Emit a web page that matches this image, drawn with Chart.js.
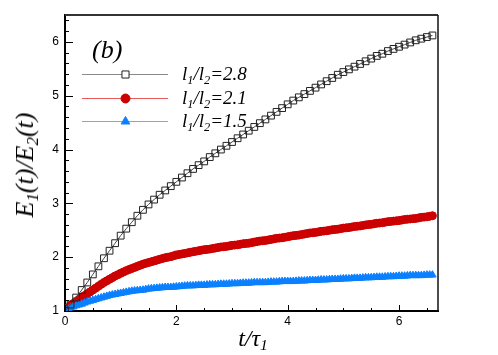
<!DOCTYPE html>
<html>
<head>
<meta charset="utf-8">
<script src="https://cdn.jsdelivr.net/npm/chart.js@4.4.1/dist/chart.umd.min.js"></script>
<style>
  html, body { margin: 0; padding: 0; background: #fff; }
  #wrap { position: relative; width: 498px; height: 355px; }
  canvas { position: absolute; left: 0; top: 0; }
  .lbl { position: absolute; font-family: "Liberation Serif", "Times New Roman", serif; font-style: italic; color: #000; white-space: nowrap; }
  .lbl sub { font-size: 0.65em; vertical-align: -0.3em; line-height: 0; }
  #ytitle { left: 25px; top: 165px; font-size: 26px; transform: translate(-50%, -50%) rotate(-90deg); }
  #xtitle { left: 253px; top: 338px; font-size: 24px; transform: translate(-50%, -50%); }
  #tag { left: 92px; top: 35px; font-size: 26px; }
  .leg { left: 182px; height: 22px; line-height: 22px; font-size: 19px; }
</style>
</head>
<body>
<div id="wrap">
  <canvas id="chart" width="498" height="355"></canvas>
  <div class="lbl" id="ytitle">E<sub>1</sub>(t)/E<sub>2</sub>(t)</div>
  <div class="lbl" id="xtitle">t/τ<sub>1</sub></div>
  <div class="lbl" id="tag">(b)</div>
  <div class="lbl leg" style="top:63px">l<sub>1</sub>/l<sub>2</sub>=2.8</div>
  <div class="lbl leg" style="top:87px">l<sub>1</sub>/l<sub>2</sub>=2.1</div>
  <div class="lbl leg" style="top:110px">l<sub>1</sub>/l<sub>2</sub>=1.5</div>
</div>
<script>
// temps adimensionnel t/tau1 (serie l1/l2 = 2.8)
const tValues = [
  0.0, 0.1, 0.2, 0.3, 0.4, 0.5, 0.6, 0.7, 0.8, 0.9,
  1.0, 1.1, 1.2, 1.3, 1.4, 1.5, 1.6, 1.7, 1.8, 1.9,
  2.0, 2.1, 2.2, 2.3, 2.4, 2.5, 2.6, 2.7, 2.8, 2.9,
  3.0, 3.1, 3.2, 3.3, 3.4, 3.5, 3.6, 3.7, 3.8, 3.9,
  4.0, 4.1, 4.2, 4.3, 4.4, 4.5, 4.6, 4.7, 4.8, 4.9,
  5.0, 5.1, 5.2, 5.3, 5.4, 5.5, 5.6, 5.7, 5.8, 5.9,
  6.0, 6.1, 6.2, 6.3, 6.4, 6.5, 6.6
];

// pas plus fin pour les series 2.1 et 1.5 (marqueurs tres serres)
const tFine = [
  0.00, 0.05, 0.10, 0.15, 0.20, 0.25, 0.30, 0.35, 0.40, 0.45,
  0.50, 0.55, 0.60, 0.65, 0.70, 0.75, 0.80, 0.85, 0.90, 0.95,
  1.00, 1.05, 1.10, 1.15, 1.20, 1.25, 1.30, 1.35, 1.40, 1.45,
  1.50, 1.55, 1.60, 1.65, 1.70, 1.75, 1.80, 1.85, 1.90, 1.95,
  2.00, 2.05, 2.10, 2.15, 2.20, 2.25, 2.30, 2.35, 2.40, 2.45,
  2.50, 2.55, 2.60, 2.65, 2.70, 2.75, 2.80, 2.85, 2.90, 2.95,
  3.00, 3.05, 3.10, 3.15, 3.20, 3.25, 3.30, 3.35, 3.40, 3.45,
  3.50, 3.55, 3.60, 3.65, 3.70, 3.75, 3.80, 3.85, 3.90, 3.95,
  4.00, 4.05, 4.10, 4.15, 4.20, 4.25, 4.30, 4.35, 4.40, 4.45,
  4.50, 4.55, 4.60, 4.65, 4.70, 4.75, 4.80, 4.85, 4.90, 4.95,
  5.00, 5.05, 5.10, 5.15, 5.20, 5.25, 5.30, 5.35, 5.40, 5.45,
  5.50, 5.55, 5.60, 5.65, 5.70, 5.75, 5.80, 5.85, 5.90, 5.95,
  6.00, 6.05, 6.10, 6.15, 6.20, 6.25, 6.30, 6.35, 6.40, 6.45,
  6.50, 6.55, 6.60
];

// l1/l2 = 2.8
const ratio28 = [
  1.00, 1.12, 1.25, 1.39, 1.53, 1.68, 1.83, 1.98, 2.12, 2.26,
  2.40, 2.53, 2.65, 2.77, 2.88, 2.98, 3.07, 3.16, 3.24, 3.32,
  3.40, 3.48, 3.56, 3.64, 3.71, 3.78, 3.86, 3.93, 4.00, 4.07,
  4.14, 4.21, 4.28, 4.35, 4.42, 4.49, 4.56, 4.63, 4.70, 4.77,
  4.84, 4.91, 4.97, 5.03, 5.09, 5.15, 5.21, 5.27, 5.33, 5.39,
  5.44, 5.49, 5.54, 5.59, 5.64, 5.69, 5.74, 5.78, 5.83, 5.87,
  5.91, 5.95, 5.99, 6.03, 6.06, 6.09, 6.12
];

// l1/l2 = 2.1
const ratio21 = [
  1.02, 1.06, 1.10, 1.14, 1.18, 1.215, 1.25, 1.285, 1.32, 1.355,
  1.39, 1.425, 1.46, 1.495, 1.53, 1.56, 1.59, 1.62, 1.65, 1.675,
  1.70, 1.725, 1.75, 1.77, 1.79, 1.81, 1.83, 1.85, 1.87, 1.885,
  1.90, 1.915, 1.93, 1.945, 1.96, 1.975, 1.99, 2.00, 2.01, 2.025,
  2.04, 2.05, 2.06, 2.07, 2.08, 2.09, 2.10, 2.11, 2.12, 2.13,
  2.14, 2.145, 2.15, 2.16, 2.17, 2.18, 2.19, 2.195, 2.20, 2.21,
  2.22, 2.225, 2.23, 2.24, 2.25, 2.255, 2.26, 2.27, 2.28, 2.29,
  2.30, 2.305, 2.31, 2.32, 2.33, 2.34, 2.35, 2.355, 2.36, 2.37,
  2.38, 2.39, 2.40, 2.405, 2.41, 2.42, 2.43, 2.44, 2.45, 2.455,
  2.46, 2.47, 2.48, 2.485, 2.49, 2.50, 2.51, 2.515, 2.52, 2.53,
  2.54, 2.545, 2.55, 2.56, 2.57, 2.575, 2.58, 2.59, 2.60, 2.605,
  2.61, 2.62, 2.63, 2.635, 2.64, 2.65, 2.66, 2.665, 2.67, 2.675,
  2.68, 2.69, 2.70, 2.705, 2.71, 2.715, 2.72, 2.73, 2.74, 2.745,
  2.75, 2.76, 2.77
];

// l1/l2 = 1.5
const ratio15 = [
  1.02, 1.04, 1.06, 1.08, 1.10, 1.115, 1.13, 1.15, 1.17, 1.185,
  1.20, 1.215, 1.23, 1.245, 1.26, 1.275, 1.29, 1.30, 1.31, 1.32,
  1.33, 1.34, 1.35, 1.36, 1.37, 1.375, 1.38, 1.385, 1.39, 1.40,
  1.41, 1.415, 1.42, 1.425, 1.43, 1.435, 1.44, 1.44, 1.44, 1.445,
  1.45, 1.455, 1.46, 1.465, 1.47, 1.47, 1.47, 1.475, 1.48, 1.48,
  1.48, 1.485, 1.49, 1.49, 1.49, 1.495, 1.50, 1.50, 1.50, 1.505,
  1.51, 1.51, 1.51, 1.515, 1.52, 1.52, 1.52, 1.525, 1.53, 1.53,
  1.53, 1.53, 1.53, 1.535, 1.54, 1.54, 1.54, 1.545, 1.55, 1.55,
  1.55, 1.55, 1.55, 1.555, 1.56, 1.56, 1.56, 1.565, 1.57, 1.57,
  1.57, 1.575, 1.58, 1.58, 1.58, 1.585, 1.59, 1.59, 1.59, 1.595,
  1.60, 1.60, 1.60, 1.605, 1.61, 1.61, 1.61, 1.615, 1.62, 1.62,
  1.62, 1.625, 1.63, 1.63, 1.63, 1.635, 1.64, 1.64, 1.64, 1.645,
  1.65, 1.65, 1.65, 1.655, 1.66, 1.66, 1.66, 1.66, 1.66, 1.665,
  1.67, 1.67, 1.67
];

const xTickValues = [0, 2, 4, 6];
const yTickValues = [1, 2, 3, 4, 5, 6];

function toPoints(ts, arr) {
  return ts.map((t, i) => ({ x: t, y: arr[i] }));
}

// traits de graduation vers l'interieur + cadre haut/droite + legende
const framePlugin = {
  id: 'frame',
  afterDraw(chart) {
    const ctx = chart.ctx;
    const a = chart.chartArea;
    const xs = chart.scales.x, ys = chart.scales.y;
    ctx.save();
    ctx.strokeStyle = '#000';
    ctx.lineWidth = 1;
    for (let i = 0; i <= 13; i++) {
      const v = i * 0.5;
      const px = Math.round(xs.getPixelForValue(v)) + 0.5;
      const len = xTickValues.includes(v) ? 6 : 3;
      ctx.beginPath(); ctx.moveTo(px, a.bottom); ctx.lineTo(px, a.bottom - len); ctx.stroke();
    }
    for (let i = 0; i <= 27; i++) {
      const v = 1 + i * 0.2;
      const py = Math.round(ys.getPixelForValue(v)) + 0.5;
      const len = (i % 5 === 0) ? 8 : 4;
      ctx.beginPath(); ctx.moveTo(a.left, py); ctx.lineTo(a.left + len, py); ctx.stroke();
    }
    ctx.strokeStyle = '#333';
    ctx.lineWidth = 2;
    ctx.beginPath(); ctx.moveTo(a.left, a.top); ctx.lineTo(a.right, a.top); ctx.stroke();
    ctx.strokeStyle = '#111';
    ctx.lineWidth = 1.5;
    ctx.beginPath(); ctx.moveTo(a.right, a.top); ctx.lineTo(a.right, a.bottom); ctx.stroke();

    const rows = [
      { y: 74.5, line: '#8a8a8a', style: 'rect', fill: '#fff', stroke: '#222', r: 5 },
      { y: 98.5, line: '#e85a5a', style: 'circle', fill: '#cc0000', stroke: '#cc0000', r: 4.5 },
      { y: 121.5, line: '#6aaff0', style: 'triangle', fill: '#0a80ff', stroke: '#0a80ff', r: 5 }
    ];
    rows.forEach(row => {
      ctx.strokeStyle = row.line;
      ctx.lineWidth = 1;
      ctx.beginPath(); ctx.moveTo(82, row.y); ctx.lineTo(168, row.y); ctx.stroke();
      ctx.fillStyle = row.fill;
      ctx.strokeStyle = row.stroke;
      Chart.helpers.drawPoint(ctx, { pointStyle: row.style, radius: row.r, rotation: 0, borderWidth: 1 }, 125.5, row.y);
    });
    ctx.restore();
  }
};

const chart = new Chart(document.getElementById('chart'), {
  type: 'line',
  data: {
    datasets: [
      {
        label: 'l1/l2=2.8',
        data: toPoints(tValues, ratio28),
        borderColor: '#444',
        borderWidth: 1,
        pointStyle: 'rect',
        pointRadius: 4.8,
        pointBackgroundColor: 'rgba(0,0,0,0)',
        pointBorderColor: '#222',
        pointBorderWidth: 1,
        order: 0
      },
      {
        label: 'l1/l2=1.5',
        data: toPoints(tFine, ratio15),
        borderColor: '#5aa5f0',
        borderWidth: 1,
        pointStyle: 'triangle',
        pointRadius: 4.3,
        pointBackgroundColor: '#0a80ff',
        pointBorderColor: '#0a80ff',
        pointBorderWidth: 1,
        order: 1
      },
      {
        label: 'l1/l2=2.1',
        data: toPoints(tFine, ratio21),
        borderColor: '#e04848',
        borderWidth: 1,
        pointStyle: 'circle',
        pointRadius: 4,
        pointBackgroundColor: '#cc0000',
        pointBorderColor: '#cc0000',
        pointBorderWidth: 1,
        order: 2
      }
    ]
  },
  options: {
    responsive: false,
    animation: false,
    devicePixelRatio: 1,
    layout: { padding: { top: 15, right: 60, left: 0, bottom: 0 } },
    plugins: { legend: { display: false }, tooltip: { enabled: false } },
    scales: {
      x: {
        type: 'linear',
        min: 0,
        max: 6.7,
        grid: { display: false, drawTicks: false },
        border: { display: true, color: '#000', width: 2 },
        ticks: {
          stepSize: 2,
          includeBounds: false,
          padding: 3,
          color: '#000',
          font: { family: 'Liberation Sans', size: 12 }
        },
        afterFit(scale) { scale.height = 44; }
      },
      y: {
        type: 'linear',
        min: 1,
        max: 6.5,
        grid: { display: false, drawTicks: false },
        border: { display: true, color: '#000', width: 2 },
        ticks: {
          stepSize: 1,
          includeBounds: false,
          padding: 6,
          color: '#000',
          font: { family: 'Liberation Sans', size: 12 }
        },
        afterFit(scale) { scale.width = 65; }
      }
    }
  },
  plugins: [framePlugin]
});
</script>
</body>
</html>
